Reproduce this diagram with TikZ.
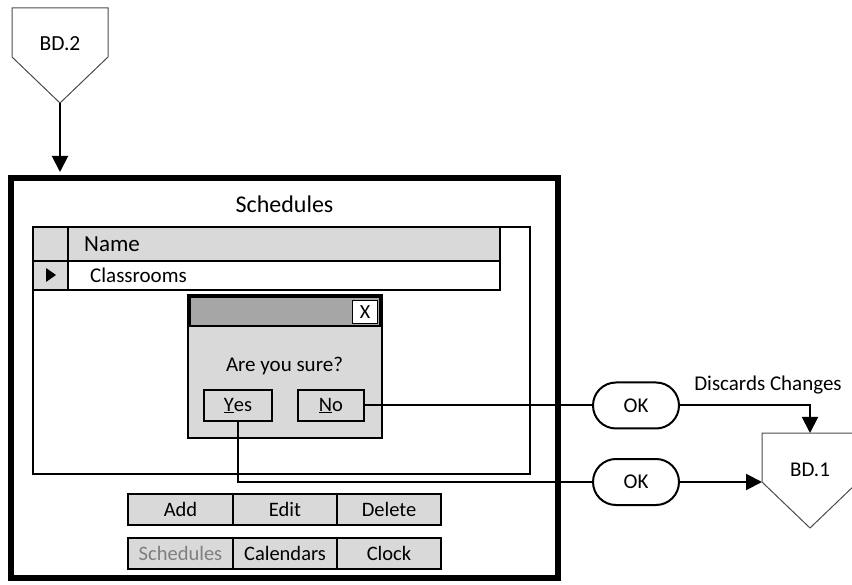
\documentclass[tikz,border=0pt]{standalone}
\usepackage{fontspec}
\setmainfont{Carlito}
\usetikzlibrary{arrows.meta,shapes.misc}
\definecolor{lgray}{HTML}{D9D9D9}
\definecolor{dgray}{HTML}{A6A6A6}
\definecolor{tgray}{HTML}{7F7F7F}
\begin{document}
\begin{tikzpicture}[x=1pt,y=-1pt,
  conn/.style={line width=2pt},
  arr/.style={conn,-{Triangle[length=16pt,width=16pt]}},
  txt/.style={font=\fontsize{21}{25}\selectfont, inner sep=0pt},
  gbox/.style={draw, line width=2pt, fill=lgray, minimum height=31pt, inner sep=0pt, font=\fontsize{20.5}{24}\selectfont},
  okbox/.style={draw, line width=2pt, rounded rectangle, minimum width=86pt, minimum height=46pt, inner sep=0pt, fill=white, font=\fontsize{21}{25}\selectfont},
  offpage/.style={draw=black!70, line width=1pt, fill=white},
  panelbox/.style={draw, line width=1.5pt, inner sep=0pt}
]
\useasboundingbox (0,0) rectangle (852,585);

% off-page connector BD.2
\draw[offpage] (12,8) -- (108,8) -- (108,57) -- (60,103) -- (12,57) -- cycle;
\node[txt, font=\fontsize{21.5}{25}\selectfont] (bd2) at (60,44) {BD.2};
\coordinate (bd2tip) at (60,103);

% main window frame
\node[draw, line width=6pt, minimum width=547pt, minimum height=400pt, inner sep=0pt] (frame) at (284.5,378) {};
\node[txt, font=\fontsize{24}{28}\selectfont] (title) at (284.5,204) {Schedules};

% inner panel
\node[panelbox, minimum width=497pt, minimum height=247pt] (panel) at (281.5,350.5) {};

% table
\draw[line width=2pt, fill=lgray] (33,227) rectangle (500,261);
\draw[line width=2pt, fill=white] (33,261) rectangle (500,290);
\draw[line width=2pt, fill=lgray] (33,261) rectangle (68,290);
\draw[line width=2pt] (68,227) -- (68,290);
\fill (46,268) -- (56,275) -- (46,282) -- cycle;
\node[txt, anchor=west, font=\fontsize{23}{27}\selectfont] (name) at (84,244) {Name};
\node[txt, anchor=west] (classrooms) at (90,275) {Classrooms};

% dialog
\node[draw, line width=2pt, fill=lgray, minimum width=194pt, minimum height=143pt, inner sep=0pt] (dlg) at (285,366.5) {};
\draw[line width=2pt, fill=dgray] (190,297) rectangle (380,326);
\node[draw, line width=1.5pt, fill=white, minimum width=25pt, minimum height=23pt, inner sep=0pt, font=\fontsize{20}{24}\selectfont] (xbtn) at (365,312) {X};
\node[txt] (sure) at (284.5,366) {Are you sure?};
\node[gbox, minimum width=68pt] (yes) at (238,405.5) {\underline{Y}es};
\node[gbox, line width=2.5pt, minimum width=66pt] (no) at (331,405.5) {\underline{N}o};

% buttons
\node[gbox, minimum width=105pt] (add) at (180.5,509.5) {Add};
\node[gbox, minimum width=104pt] (edit) at (285,509.5) {Edit};
\node[gbox, minimum width=104pt] (delete) at (389,509.5) {Delete};
\node[gbox, minimum width=105pt, text=tgray] (sched) at (180.5,553.5) {Schedules};
\node[gbox, minimum width=104pt] (cal) at (285,553.5) {Calendars};
\node[gbox, minimum width=104pt] (clock) at (389,553.5) {Clock};

% OK terminators
\node[okbox] (ok1) at (636,405.5) {OK};
\node[okbox] (ok2) at (636,482) {OK};

% off-page connector BD.1
\draw[offpage] (762,433) -- (858,433) -- (858,482) -- (810,528) -- (762,482) -- cycle;
\node[txt] (bd1) at (810,470) {BD.1};
\coordinate (bd1top) at (810,433);
\coordinate (bd1left) at (762,482);

% connectors
\draw[arr, shorten >=3pt] (bd2tip) -- (bd2tip |- frame.north);
\draw[conn] (no.east) -- (ok1.west);
\draw[arr] (ok1.east) -| (bd1top);
\node[txt] (dc) at (768,385) {Discards Changes};
\draw[conn] (yes.south) |- (ok2.west);
\draw[arr] (ok2.east) -- (bd1left);
\end{tikzpicture}
\end{document}
